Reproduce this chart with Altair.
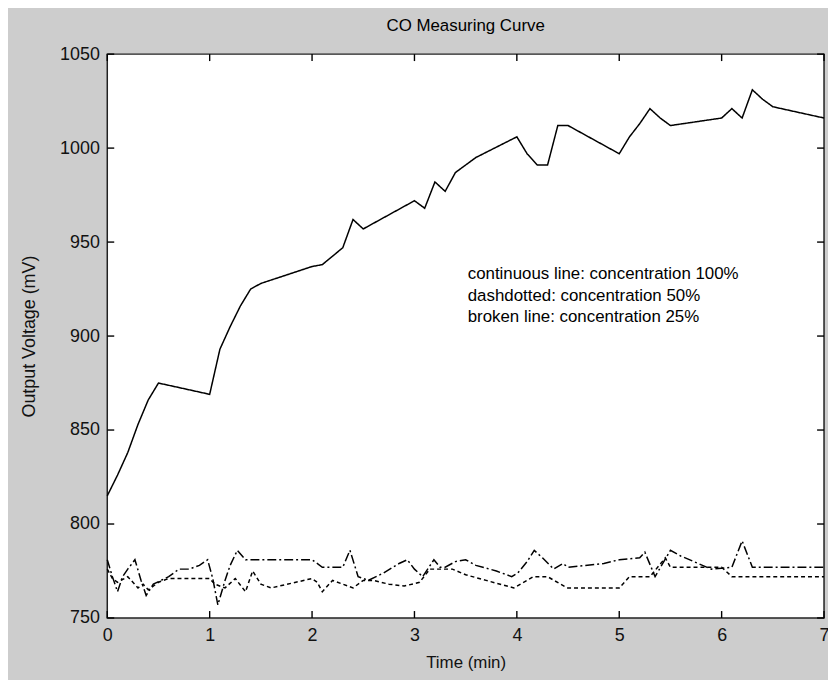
import altair as alt
import pandas as pd

# ---- data ----
solid_t = [0, 0.1, 0.2, 0.3, 0.4, 0.5, 1.0, 1.1, 1.2, 1.3, 1.4, 1.5, 2.0, 2.1, 2.3, 2.4, 2.5,
           3.0, 3.1, 3.2, 3.3, 3.4, 3.5, 3.6, 4.0, 4.1, 4.2, 4.3, 4.4, 4.5, 5.0, 5.1, 5.2,
           5.3, 5.4, 5.5, 6.0, 6.1, 6.2, 6.3, 6.4, 6.5, 7.0]
solid_v = [815, 826, 838, 853, 866, 875, 869, 893, 905, 916, 925, 928, 937, 938, 947, 962, 957,
           972, 968, 982, 977, 987, 991, 995, 1006, 997, 991, 991, 1012, 1012, 997, 1006, 1013,
           1021, 1016, 1012, 1016, 1021, 1016, 1031, 1026, 1022, 1016]

dashdot_t = [0, 0.05, 0.1, 0.15, 0.2, 0.27, 0.33, 0.38, 0.45, 0.6, 0.7, 0.8, 0.9, 0.98, 1.03,
             1.08, 1.15, 1.2, 1.27, 1.35, 1.45, 1.9, 2.0, 2.1, 2.3, 2.37, 2.45, 2.55, 2.7, 2.85,
             2.93, 3.0, 3.08, 3.19, 3.25, 3.3, 3.4, 3.5, 3.6, 3.8, 3.95, 4.01, 4.1, 4.17, 4.25,
             4.36, 4.45, 4.5, 4.85, 5.0, 5.2, 5.25, 5.35, 5.5, 5.6, 5.9, 6.1, 6.2, 6.3, 7.0]
dashdot_v = [781, 772, 764, 772, 776, 781, 770, 762, 768, 772, 776, 776, 778, 781, 771,
             757, 770, 778, 786, 781, 781, 781, 781, 777, 777, 786, 772, 770, 774, 779,
             781, 776, 772, 781, 777, 777, 780, 781, 778, 775, 772, 774, 780, 786, 782,
             776, 779, 777, 779, 781, 782, 785, 772, 786, 783, 776, 777, 791, 777, 777]

dashed_t = [0, 0.05, 0.1, 0.2, 0.3, 0.35, 0.4, 0.5, 0.6, 0.7, 1.0, 1.05, 1.15, 1.25, 1.35,
            1.42, 1.5, 1.6, 2.0, 2.05, 2.1, 2.2, 2.3, 2.4, 2.5, 2.6, 2.75, 2.9, 3.05, 3.15,
            3.25, 3.37, 3.5, 3.7, 3.97, 4.1, 4.16, 4.3, 4.49, 5.0, 5.1, 5.3, 5.45, 5.5, 6.0,
            6.1, 7.0]
dashed_v = [776, 771, 769, 772, 766, 768, 765, 769, 771, 771, 771, 768, 766, 771, 764,
            775, 768, 766, 771, 769, 764, 770, 768, 766, 770, 770, 768, 767, 769, 776,
            776, 776, 773, 770, 766, 770, 772, 772, 766, 766, 772, 772, 782, 777, 777,
            772, 772]

series_names = ["100%", "50%", "25%"]
x_ticks = [0, 1, 2, 3, 4, 5, 6, 7]
y_ticks = [750, 800, 850, 900, 950, 1000, 1050]
notes = ["continuous line: concentration 100%",
         "dashdotted: concentration 50%",
         "broken line: concentration 25%"]
note_t = [3.52, 3.52, 3.52]
note_v = [933, 921.5, 910]

# ---- tables ----
rows = []
for name, ts, vs in zip(series_names, [solid_t, dashdot_t, dashed_t], [solid_v, dashdot_v, dashed_v]):
    for i, (t, v) in enumerate(zip(ts, vs)):
        rows.append({"t": t, "v": v, "s": name, "o": i})
lines_df = pd.DataFrame(rows)
xt_df = pd.DataFrame({"t": x_ticks})
yt_df = pd.DataFrame({"v": y_ticks})
note_df = pd.DataFrame({"t": note_t, "v": note_v, "label": notes})

W, H = 722, 568
FONT = "Liberation Sans, Arial, Helvetica, sans-serif"

xscale = alt.Scale(domain=[0, 7], nice=False, zero=False)
yscale = alt.Scale(domain=[750, 1050], nice=False, zero=False)
xaxis = alt.Axis(values=x_ticks, title="Time (min)", labelFlush=False, labelPadding=9,
                 titlePadding=10, format="d", titleFontSize=17)
yaxis = alt.Axis(values=y_ticks, title="Output Voltage (mV)", labelFlush=False,
                 labelPadding=8, titlePadding=21, format="d", titleFontSize=18)
X = alt.X("t:Q", scale=xscale, axis=xaxis)
Y = alt.Y("v:Q", scale=yscale, axis=yaxis)

lines = alt.Chart(lines_df).mark_line(color="black", strokeWidth=1.5).encode(
    x=X, y=Y, detail="s:N", order="o:Q",
    strokeDash=alt.StrokeDash("s:N", scale=alt.Scale(domain=series_names,
                                                    range=[[1, 0], [9, 3, 2, 3], [4, 3]]),
                              legend=None),
)

xt_bottom = alt.Chart(xt_df).mark_rule(color="black", strokeWidth=1.4).encode(
    x=X, y=alt.value(H), y2=alt.value(H - 7))
xt_top = alt.Chart(xt_df).mark_rule(color="black", strokeWidth=1.4).encode(
    x=X, y=alt.value(0), y2=alt.value(7))
yt_left = alt.Chart(yt_df).mark_rule(color="black", strokeWidth=1.4).encode(
    y=Y, x=alt.value(0), x2=alt.value(7))
yt_right = alt.Chart(yt_df).mark_rule(color="black", strokeWidth=1.4).encode(
    y=Y, x=alt.value(W), x2=alt.value(W - 7))

text = alt.Chart(note_df).mark_text(align="left", baseline="middle", fontSize=17,
                                    font=FONT, color="black").encode(
    x=X, y=Y, text="label:N")

chart = alt.layer(lines, xt_bottom, xt_top, yt_left, yt_right, text).properties(
    width=W, height=H,
    title=alt.TitleParams("CO Measuring Curve", fontSize=17, fontWeight="normal",
                          font=FONT, color="black", offset=10),
    autosize=alt.AutoSizeParams(type="none"),
    padding={"left": 100, "top": 44, "right": 4, "bottom": 60},
    background="#cdcdcd",
).configure_view(
    fill="white", stroke="#222222", strokeWidth=1.5
).configure_axis(
    ticks=False, domain=False, grid=False,
    labelFont=FONT, labelFontSize=18, labelColor="#111111",
    titleFont=FONT, titleColor="#111111", titleFontWeight="normal",
    labelOverlap=False,
)

chart.save("out.html", embed_options={"renderer": "svg", "actions": False})
